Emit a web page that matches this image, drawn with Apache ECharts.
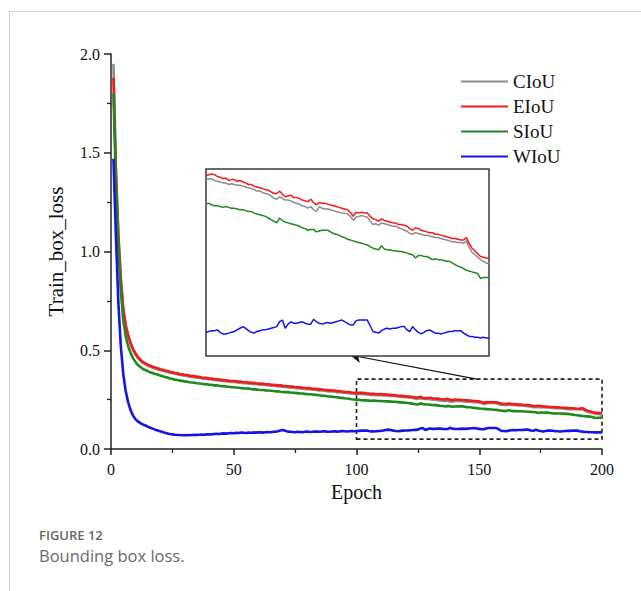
<!DOCTYPE html>
<html>
<head>
<meta charset="utf-8">
<script src="https://cdn.jsdelivr.net/npm/echarts@6/dist/echarts.min.js"></script>
<style>
  html, body { margin: 0; padding: 0; background: #fff; }
  #page { position: relative; width: 641px; height: 591px; overflow: hidden; }
  #frame { position: absolute; left: 9px; top: 11px; width: 700px; height: 700px;
           border-top: 1px solid #cfcfcf; border-left: 1px solid #cfcfcf; }
  #chart { position: absolute; left: 0; top: 0; width: 641px; height: 512px; }
  .cap1 { position: absolute; left: 39px; top: 526px; font: 600 13px "Open Sans", sans-serif; color: #666; }
  .cap2 { position: absolute; left: 39px; top: 544px; font: 400 16.5px "Open Sans", sans-serif; color: #6a6a6a; }
</style>
</head>
<body>
<div id="page">
  <div id="frame"></div>
  <div id="chart"></div>
  <div class="cap1">FIGURE 12</div>
  <div class="cap2">Bounding box loss.</div>
</div>
<script>
// Training box loss per epoch (epochs 1..200) for four IoU loss variants.
const seriesNames = ['CIoU', 'EIoU', 'SIoU', 'WIoU'];

const ciou = [
  1.950, 1.420, 1.090, 0.860, 0.705, 0.622, 0.570, 0.531, 0.500, 0.478,
  0.460, 0.447, 0.436, 0.429, 0.421, 0.417, 0.411, 0.408, 0.404, 0.399,
  0.397, 0.393, 0.390, 0.386, 0.384, 0.381, 0.379, 0.375, 0.373, 0.371,
  0.370, 0.366, 0.365, 0.364, 0.361, 0.360, 0.357, 0.356, 0.355, 0.352,
  0.352, 0.349, 0.348, 0.347, 0.345, 0.343, 0.343, 0.341, 0.339, 0.339,
  0.338, 0.336, 0.336, 0.333, 0.333, 0.332, 0.330, 0.330, 0.328, 0.327,
  0.326, 0.325, 0.323, 0.323, 0.321, 0.320, 0.319, 0.317, 0.317, 0.315,
  0.314, 0.313, 0.311, 0.311, 0.309, 0.308, 0.307, 0.305, 0.304, 0.303,
  0.303, 0.300, 0.300, 0.298, 0.297, 0.296, 0.295, 0.293, 0.292, 0.291,
  0.291, 0.288, 0.288, 0.286, 0.285, 0.284, 0.283, 0.281, 0.280,
  0.278, 0.279, 0.279, 0.277, 0.276, 0.275, 0.274, 0.274, 0.272, 0.273,
  0.272, 0.271, 0.271, 0.270, 0.269, 0.268, 0.267, 0.266, 0.264, 0.264,
  0.262, 0.261, 0.260, 0.258, 0.255, 0.254, 0.257, 0.255, 0.253, 0.253,
  0.252, 0.250, 0.249, 0.248, 0.246, 0.245, 0.243, 0.245, 0.241, 0.239,
  0.245, 0.243, 0.242, 0.242, 0.241, 0.240, 0.239, 0.238, 0.237, 0.237,
  0.236, 0.233, 0.228, 0.232, 0.233, 0.234, 0.233, 0.232, 0.227, 0.223,
  0.224, 0.222, 0.225, 0.224, 0.223, 0.222, 0.221, 0.221, 0.219, 0.218,
  0.216, 0.215, 0.212, 0.211, 0.213, 0.212, 0.211, 0.210, 0.210, 0.209,
  0.208, 0.207, 0.207, 0.206, 0.205, 0.204, 0.203, 0.202, 0.202, 0.201,
  0.201, 0.200, 0.203, 0.195, 0.189, 0.186, 0.183, 0.180, 0.178, 0.176,
  0.175
];

const eiou = [
  1.880, 1.400, 1.080, 0.860, 0.710, 0.628, 0.575, 0.536, 0.506, 0.483,
  0.465, 0.452, 0.441, 0.434, 0.426, 0.422, 0.416, 0.413, 0.409, 0.404,
  0.402, 0.397, 0.395, 0.391, 0.389, 0.385, 0.384, 0.380, 0.378, 0.376,
  0.375, 0.371, 0.370, 0.369, 0.366, 0.365, 0.362, 0.361, 0.360, 0.357,
  0.357, 0.354, 0.353, 0.352, 0.350, 0.348, 0.348, 0.346, 0.344, 0.344,
  0.343, 0.341, 0.341, 0.338, 0.338, 0.337, 0.335, 0.335, 0.333, 0.332,
  0.331, 0.330, 0.328, 0.328, 0.326, 0.325, 0.324, 0.322, 0.322, 0.320,
  0.319, 0.318, 0.316, 0.316, 0.314, 0.313, 0.312, 0.310, 0.309, 0.308,
  0.308, 0.305, 0.305, 0.303, 0.302, 0.301, 0.300, 0.298, 0.297, 0.296,
  0.296, 0.293, 0.293, 0.291, 0.290, 0.289, 0.288, 0.286, 0.285,
  0.283, 0.284, 0.285, 0.284, 0.282, 0.281, 0.279, 0.280, 0.277, 0.278,
  0.278, 0.276, 0.277, 0.275, 0.274, 0.272, 0.272, 0.270, 0.269, 0.268,
  0.267, 0.266, 0.265, 0.263, 0.261, 0.261, 0.264, 0.260, 0.257, 0.258,
  0.259, 0.256, 0.256, 0.255, 0.253, 0.252, 0.251, 0.254, 0.250, 0.247,
  0.250, 0.249, 0.249, 0.248, 0.247, 0.246, 0.245, 0.244, 0.243, 0.242,
  0.241, 0.238, 0.233, 0.238, 0.237, 0.238, 0.237, 0.237, 0.233, 0.230,
  0.229, 0.227, 0.230, 0.228, 0.227, 0.226, 0.225, 0.225, 0.223, 0.223,
  0.222, 0.221, 0.218, 0.216, 0.219, 0.218, 0.216, 0.215, 0.214, 0.213,
  0.213, 0.211, 0.211, 0.210, 0.209, 0.208, 0.207, 0.206, 0.206, 0.205,
  0.204, 0.204, 0.207, 0.200, 0.194, 0.191, 0.187, 0.184, 0.183, 0.182,
  0.181
];

const siou = [
  1.800, 1.350, 1.020, 0.800, 0.650, 0.570, 0.520, 0.486, 0.459, 0.440,
  0.425, 0.415, 0.405, 0.400, 0.394, 0.388, 0.385, 0.380, 0.377, 0.372,
  0.369, 0.364, 0.362, 0.357, 0.355, 0.351, 0.350, 0.346, 0.345, 0.342,
  0.341, 0.338, 0.337, 0.335, 0.333, 0.332, 0.330, 0.328, 0.328, 0.325,
  0.325, 0.322, 0.322, 0.320, 0.318, 0.318, 0.316, 0.315, 0.313, 0.313,
  0.311, 0.310, 0.309, 0.307, 0.306, 0.306, 0.304, 0.302, 0.302, 0.300,
  0.299, 0.299, 0.297, 0.296, 0.295, 0.294, 0.292, 0.292, 0.290, 0.289,
  0.288, 0.288, 0.286, 0.285, 0.284, 0.283, 0.281, 0.281, 0.279, 0.278,
  0.277, 0.276, 0.274, 0.274, 0.272, 0.270, 0.270, 0.267, 0.266, 0.265,
  0.263, 0.262, 0.260, 0.259, 0.257, 0.256, 0.254, 0.252, 0.251,
  0.248, 0.249, 0.247, 0.246, 0.246, 0.245, 0.244, 0.245, 0.244, 0.243,
  0.243, 0.242, 0.241, 0.241, 0.240, 0.239, 0.239, 0.237, 0.236, 0.235,
  0.234, 0.233, 0.231, 0.229, 0.227, 0.225, 0.231, 0.228, 0.226, 0.225,
  0.224, 0.223, 0.222, 0.221, 0.219, 0.218, 0.216, 0.217, 0.217, 0.214,
  0.215, 0.216, 0.216, 0.216, 0.214, 0.212, 0.211, 0.210, 0.208, 0.207,
  0.205, 0.204, 0.203, 0.202, 0.201, 0.200, 0.199, 0.198, 0.196, 0.194,
  0.193, 0.192, 0.197, 0.193, 0.192, 0.192, 0.191, 0.191, 0.190, 0.190,
  0.189, 0.188, 0.187, 0.186, 0.182, 0.185, 0.185, 0.184, 0.184, 0.182,
  0.180, 0.181, 0.180, 0.180, 0.179, 0.178, 0.178, 0.176, 0.174, 0.172,
  0.171, 0.169, 0.167, 0.166, 0.165, 0.164, 0.163, 0.157, 0.158, 0.158,
  0.158
];

const wiou = [
  1.470, 1.080, 0.740, 0.520, 0.380, 0.292, 0.236, 0.196, 0.169, 0.150,
  0.139, 0.131, 0.124, 0.119, 0.113, 0.108, 0.103, 0.098, 0.094, 0.090,
  0.086, 0.082, 0.079, 0.076, 0.074, 0.072, 0.071, 0.071, 0.070, 0.070,
  0.071, 0.070, 0.071, 0.072, 0.071, 0.072, 0.073, 0.072, 0.074, 0.075,
  0.074, 0.076, 0.077, 0.076, 0.078, 0.079, 0.078, 0.080, 0.081, 0.080,
  0.082, 0.081, 0.083, 0.082, 0.081, 0.083, 0.082, 0.084, 0.083, 0.085,
  0.084, 0.083, 0.085, 0.086, 0.085, 0.087, 0.088, 0.090, 0.094, 0.096,
  0.092, 0.088, 0.087, 0.086, 0.085, 0.087, 0.086, 0.085, 0.087, 0.088,
  0.086, 0.087, 0.089, 0.088, 0.087, 0.089, 0.090, 0.088, 0.087, 0.089,
  0.090, 0.088, 0.089, 0.091, 0.090, 0.089, 0.090, 0.091, 0.090,
  0.091, 0.092, 0.093, 0.093, 0.094, 0.091, 0.089, 0.089, 0.090, 0.091,
  0.092, 0.094, 0.096, 0.098, 0.096, 0.093, 0.091, 0.090, 0.092, 0.093,
  0.094, 0.094, 0.095, 0.096, 0.097, 0.098, 0.104, 0.106, 0.096, 0.101,
  0.104, 0.102, 0.102, 0.103, 0.104, 0.102, 0.101, 0.101, 0.107, 0.104,
  0.102, 0.101, 0.102, 0.103, 0.102, 0.103, 0.104, 0.105, 0.106, 0.104,
  0.102, 0.100, 0.100, 0.105, 0.106, 0.106, 0.106, 0.106, 0.099, 0.092,
  0.091, 0.090, 0.093, 0.095, 0.096, 0.095, 0.096, 0.096, 0.097, 0.098,
  0.098, 0.094, 0.092, 0.098, 0.094, 0.091, 0.089, 0.091, 0.093, 0.094,
  0.092, 0.090, 0.090, 0.089, 0.090, 0.091, 0.092, 0.092, 0.093, 0.093,
  0.093, 0.090, 0.088, 0.086, 0.086, 0.085, 0.085, 0.084, 0.085, 0.084,
  0.084
];

const epochs = ciou.map((_, i) => i + 1);
const xTicks = [0, 50, 100, 150, 200];
const yTicks = [0.0, 0.5, 1.0, 1.5, 2.0];

// Zoomed region shown in the inset panel
const zoomEpochs = [100, 200];
const zoomBox = [0.05, 0.354];
const insetRange = [0.062, 0.291];
const arrowFrom = [149, 0.354];
const arrowTo = [97.4, 0.476];

const colors = ['#8c8c8c', '#f21a1a', '#1d8a1d', '#1414e6'];
const allData = [ciou, eiou, siou, wiou];

const serif = '"Liberation Serif", "Times New Roman", serif';

function pairs(arr, from) {
  const out = [];
  for (let i = 0; i < arr.length; i++) {
    if (epochs[i] >= from) out.push([epochs[i], arr[i]]);
  }
  return out;
}

const series = [];
seriesNames.forEach((name, k) => {
  const s = {
    name: name,
    type: 'line',
    xAxisIndex: 0, yAxisIndex: 0,
    data: pairs(allData[k], 0),
    showSymbol: false,
    symbol: 'none',
    color: colors[k],
    lineStyle: { width: 2.6, color: colors[k] },
    silent: true,
    animation: false,
    z: 2 + k
  };
  if (k === 0) {
    s.markArea = {
      silent: true,
      itemStyle: { color: 'rgba(0,0,0,0)', borderColor: '#222', borderWidth: 1.6, borderType: [4, 3] },
      data: [[{ coord: [zoomEpochs[0], zoomBox[0]] }, { coord: [zoomEpochs[1], zoomBox[1]] }]]
    };
    s.markLine = {
      silent: true,
      symbol: ['none', 'arrow'],
      symbolSize: [9, 11],
      label: { show: false },
      lineStyle: { color: '#111', width: 1.2, type: 'solid' },
      data: [[{ coord: arrowFrom }, { coord: arrowTo }]]
    };
  }
  series.push(s);
});
seriesNames.forEach((name, k) => {
  series.push({
    name: name,
    type: 'line',
    xAxisIndex: 1, yAxisIndex: 1,
    data: pairs(allData[k], zoomEpochs[0]),
    showSymbol: false,
    symbol: 'none',
    color: colors[k],
    lineStyle: { width: 1.5, color: colors[k] },
    silent: true,
    animation: false,
    clip: true,
    z: 10 + k
  });
});

const axisLine = { show: true, lineStyle: { color: '#222', width: 1.5 } };

const chart = echarts.init(document.getElementById('chart'), null, { renderer: 'svg' });
chart.setOption({
  animation: false,
  backgroundColor: 'transparent',
  grid: [
    { left: 111, top: 54, width: 491, height: 395, containLabel: false },
    { left: 206, top: 169, width: 283, height: 187, show: true,
      borderColor: '#383838', borderWidth: 1.5, backgroundColor: '#fff', z: 8 }
  ],
  legend: {
    orient: 'vertical',
    left: 456, top: 67,
    icon: 'rect',
    itemWidth: 47, itemHeight: 2.2,
    itemGap: 6,
    selectedMode: false,
    data: seriesNames,
    textStyle: { fontFamily: serif, fontSize: 19, lineHeight: 19, color: '#111', padding: [0, 0, 0, 0] }
  },
  xAxis: [
    {
      type: 'value', gridIndex: 0, min: xTicks[0], max: xTicks[xTicks.length - 1], interval: 50,
      name: 'Epoch', nameLocation: 'middle', nameGap: 33,
      nameTextStyle: { fontFamily: serif, fontSize: 20, color: '#111' },
      axisLine: axisLine,
      axisTick: { show: true, inside: false, length: 6, lineStyle: { color: '#222', width: 1.5 } },
      minorTick: { show: true, splitNumber: 2, length: 4, lineStyle: { color: '#222', width: 1.3 } },
      axisLabel: { fontFamily: serif, fontSize: 16, color: '#111', margin: 12 },
      splitLine: { show: false }
    },
    {
      type: 'value', gridIndex: 1, min: zoomEpochs[0], max: zoomEpochs[1],
      show: false, splitLine: { show: false }
    }
  ],
  yAxis: [
    {
      type: 'value', gridIndex: 0, min: yTicks[0], max: yTicks[yTicks.length - 1], interval: 0.5,
      name: 'Train_box_loss', nameLocation: 'middle', nameGap: 45,
      nameTextStyle: { fontFamily: serif, fontSize: 21, color: '#111' },
      axisLine: axisLine,
      axisTick: { show: true, inside: false, length: 7, lineStyle: { color: '#222', width: 1.5 } },
      minorTick: { show: true, splitNumber: 2, length: 4, lineStyle: { color: '#222', width: 1.3 } },
      axisLabel: { fontFamily: serif, fontSize: 16, color: '#111', margin: 11,
                   formatter: v => v.toFixed(1) },
      splitLine: { show: false }
    },
    {
      type: 'value', gridIndex: 1, min: insetRange[0], max: insetRange[1],
      show: false, splitLine: { show: false }
    }
  ],
  series: series
});
</script>
</body>
</html>
